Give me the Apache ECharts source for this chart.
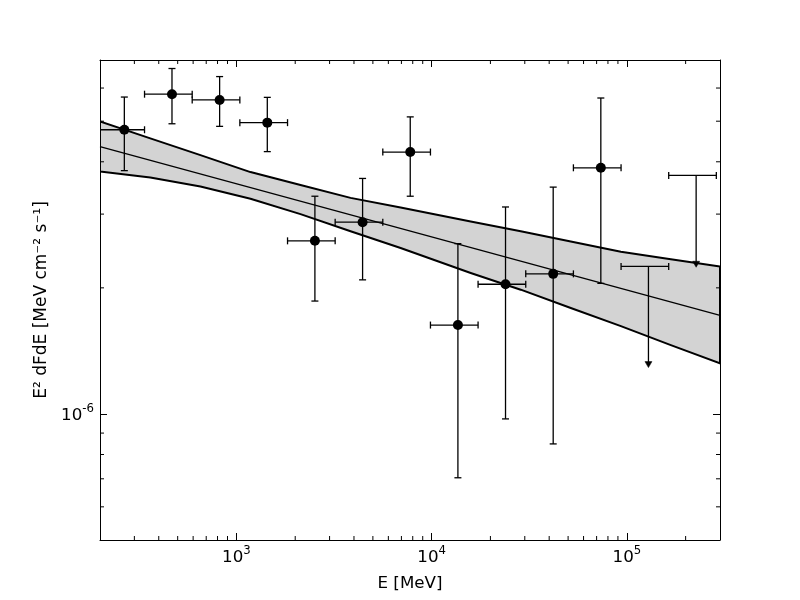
<!DOCTYPE html>
<html>
<head>
<meta charset="utf-8">
<script src="https://cdn.jsdelivr.net/npm/echarts@6/dist/echarts.min.js"></script>
<style>html,body{margin:0;padding:0;background:#fff}#chart{width:800px;height:600px}</style>
</head>
<body>
<div id="chart"></div>
<script>
// ---- data ----
// SED detections: energy (MeV), bin edges, E^2 dF/dE and its error range
const sedEnergy   = [266.5, 467.5, 820, 1439, 2523, 4428, 7768, 13630, 23900, 41940, 73560];
const sedEnergyLo = [192.8, 338.2, 593.4, 1041, 1827, 3204, 5620, 9859, 17290, 30340, 53230];
const sedEnergyHi = [338.2, 593.4, 1041, 1827, 3204, 5620, 9859, 17290, 30340, 53230, 93390];
const sedFlux     = [4.77e-6, 5.80e-6, 5.62e-6, 4.96e-6, 2.59e-6, 2.87e-6, 4.22e-6, 1.63e-6, 2.04e-6, 2.16e-6, 3.87e-6];
const sedFluxLo   = [3.81e-6, 4.93e-6, 4.86e-6, 4.23e-6, 1.86e-6, 2.09e-6, 3.31e-6, 0.704e-6, 0.973e-6, 0.848e-6, 2.05e-6];
const sedFluxHi   = [5.71e-6, 6.68e-6, 6.39e-6, 5.70e-6, 3.31e-6, 3.65e-6, 5.12e-6, 2.55e-6, 3.12e-6, 3.48e-6, 5.68e-6];

// Upper limits
const ulEnergy   = [129000, 226400];
const ulEnergyLo = [93390, 163800];
const ulEnergyHi = [163800, 287300];
const ulFlux     = [2.25e-6, 3.71e-6];
const ulArrowTo  = [1.29e-6, 2.24e-6];

// Fit butterfly (confidence band) and best-fit power law
const bandEnergy = [200, 362, 654, 1180, 2129, 3842, 6934, 15850, 28600, 51600, 93200, 168000, 300000];
const bandUpper  = [4.99e-6, 4.55e-6, 4.15e-6, 3.78e-6, 3.52e-6, 3.28e-6, 3.11e-6, 2.88e-6, 2.73e-6, 2.58e-6, 2.44e-6, 2.34e-6, 2.25e-6];
const bandLower  = [3.79e-6, 3.67e-6, 3.49e-6, 3.265e-6, 3.00e-6, 2.73e-6, 2.49e-6, 2.17e-6, 1.98e-6, 1.79e-6, 1.62e-6, 1.46e-6, 1.32e-6];
const fitEnergy  = [200, 300000];
const fitFlux    = [4.35e-6, 1.72e-6];

// Axis ranges and minor tick values
const xRange = [200, 300000];
const yRange = [5e-7, 7e-6];
const xMinorTicks = [300, 400, 500, 600, 700, 800, 900,
  2000, 3000, 4000, 5000, 6000, 7000, 8000, 9000,
  20000, 30000, 40000, 50000, 60000, 70000, 80000, 90000, 200000];
const yMinorTicks = [6e-7, 7e-7, 8e-7, 9e-7, 2e-6, 3e-6, 4e-6, 5e-6, 6e-6];

// ---- chart ----
const FONT = 'DejaVu Sans';
const FS = 16.7;
const chart = echarts.init(document.getElementById('chart'), null, {renderer: 'canvas'});

function powLabel(v) {
  const e = Math.log10(v);
  const r = Math.round(e);
  if (Math.abs(e - r) > 1e-6) return '';
  return '{b|10}{s|' + r + '}';
}
const richLabel = {
  b: {fontSize: FS, fontFamily: FONT, color: '#000', verticalAlign: 'bottom', lineHeight: 21},
  s: {fontSize: 11.7, fontFamily: FONT, color: '#000', verticalAlign: 'top', lineHeight: 12}
};

const lineStyle = {stroke: '#000', lineWidth: 1.3};
const CAP = 3.5;

function seg(x1, y1, x2, y2, st) {
  return {type: 'line', shape: {x1, y1, x2, y2}, style: st || lineStyle};
}

function errRender(params, api) {
  const c = api.coord([api.value(0), api.value(1)]);
  const l = api.coord([api.value(2), api.value(1)]);
  const r = api.coord([api.value(3), api.value(1)]);
  const b = api.coord([api.value(0), api.value(4)]);
  const t = api.coord([api.value(0), api.value(5)]);
  return {type: 'group', children: [
    seg(l[0], c[1], r[0], c[1]),
    seg(l[0], c[1] - CAP, l[0], c[1] + CAP),
    seg(r[0], c[1] - CAP, r[0], c[1] + CAP),
    seg(c[0], t[1], c[0], b[1]),
    seg(c[0] - CAP, t[1], c[0] + CAP, t[1]),
    seg(c[0] - CAP, b[1], c[0] + CAP, b[1])
  ]};
}

function ulRender(params, api) {
  const c = api.coord([api.value(0), api.value(1)]);
  const l = api.coord([api.value(2), api.value(1)]);
  const r = api.coord([api.value(3), api.value(1)]);
  const tip = api.coord([api.value(0), api.value(4)]);
  return {type: 'group', children: [
    seg(l[0], c[1], r[0], c[1]),
    seg(l[0], c[1] - CAP, l[0], c[1] + CAP),
    seg(r[0], c[1] - CAP, r[0], c[1] + CAP),
    seg(c[0], c[1], c[0], tip[1] - 2),
    {type: 'polygon', shape: {points: [[c[0] - 3.5, tip[1] - 6], [c[0] + 3.5, tip[1] - 6], [c[0], tip[1]]]},
     style: {fill: '#000', stroke: '#000', lineWidth: 0.5}}
  ]};
}

function bandRender(params, api) {
  if (params.dataIndex !== 0) return null;
  const pts = [];
  for (let i = 0; i < bandEnergy.length; i++) pts.push(api.coord([bandEnergy[i], bandUpper[i]]));
  for (let i = bandEnergy.length - 1; i >= 0; i--) pts.push(api.coord([bandEnergy[i], bandLower[i]]));
  return {type: 'polygon', shape: {points: pts},
          style: {fill: '#d3d3d3', stroke: '#000', lineWidth: 2, lineJoin: 'round'}};
}

function xTickRender(params, api) {
  const cs = params.coordSys;
  const x = api.coord([api.value(0), yRange[0]])[0];
  const bottom = cs.y + cs.height, top = cs.y;
  const st = {stroke: '#000', lineWidth: 1};
  return {type: 'group', children: [seg(x, bottom, x, bottom - 4, st), seg(x, top, x, top + 4, st)]};
}
function yTickRender(params, api) {
  const cs = params.coordSys;
  const y = api.coord([xRange[0], api.value(1)])[1];
  const left = cs.x, right = cs.x + cs.width;
  const st = {stroke: '#000', lineWidth: 1};
  return {type: 'group', children: [seg(left, y, left + 4, y, st), seg(right, y, right - 4, y, st)]};
}

const axisCommon = {
  type: 'log', logBase: 10,
  axisLine: {show: true, lineStyle: {color: '#000', width: 1}},
  axisTick: {show: true, inside: true, length: 7, lineStyle: {color: '#000', width: 1}},
  splitLine: {show: false},
  minorTick: {show: false}
};

const option = {
  backgroundColor: '#fff',
  animation: false,
  grid: {left: 100, right: 80, top: 60, bottom: 60, containLabel: false},
  xAxis: [
    Object.assign({}, axisCommon, {
      position: 'bottom', min: xRange[0], max: xRange[1],
      name: 'E [MeV]', nameLocation: 'middle', nameGap: 35,
      nameTextStyle: {fontSize: FS, fontFamily: FONT, color: '#000'},
      axisLabel: {show: true, margin: 5, formatter: powLabel, rich: richLabel}
    }),
    Object.assign({}, axisCommon, {
      position: 'top', min: xRange[0], max: xRange[1],
      axisLabel: {show: false}
    })
  ],
  yAxis: [
    Object.assign({}, axisCommon, {
      position: 'left', min: yRange[0], max: yRange[1],
      name: 'E² dFdE [MeV cm⁻² s⁻¹]', nameLocation: 'middle', nameGap: 48, nameRotate: 90,
      nameTextStyle: {fontSize: 17, fontFamily: FONT, color: '#000'},
      axisLabel: {show: true, margin: 6, formatter: powLabel, rich: richLabel}
    }),
    Object.assign({}, axisCommon, {
      position: 'right', min: yRange[0], max: yRange[1],
      axisLabel: {show: false}
    })
  ],
  series: [
    {
      type: 'custom', name: 'band', xAxisIndex: 0, yAxisIndex: 0, z: 1, clip: true,
      renderItem: bandRender,
      data: bandEnergy.map((e, i) => [e, bandUpper[i]])
    },
    {
      type: 'line', name: 'fit', xAxisIndex: 0, yAxisIndex: 0, z: 2,
      showSymbol: false, symbol: 'none',
      lineStyle: {color: '#000', width: 1.3},
      data: fitEnergy.map((e, i) => [e, fitFlux[i]])
    },
    {
      type: 'custom', name: 'errors', xAxisIndex: 0, yAxisIndex: 0, z: 3, clip: true,
      renderItem: errRender,
      encode: {x: 0, y: 1},
      data: sedEnergy.map((e, i) => [e, sedFlux[i], sedEnergyLo[i], sedEnergyHi[i], sedFluxLo[i], sedFluxHi[i]])
    },
    {
      type: 'custom', name: 'upper limits', xAxisIndex: 0, yAxisIndex: 0, z: 3, clip: true,
      renderItem: ulRender,
      encode: {x: 0, y: 1},
      data: ulEnergy.map((e, i) => [e, ulFlux[i], ulEnergyLo[i], ulEnergyHi[i], ulArrowTo[i]])
    },
    {
      type: 'scatter', name: 'points', xAxisIndex: 0, yAxisIndex: 0, z: 4,
      symbol: 'circle', symbolSize: 10,
      itemStyle: {color: '#000', opacity: 1},
      data: sedEnergy.map((e, i) => [e, sedFlux[i]])
    },
    {
      type: 'custom', name: 'xminor', xAxisIndex: 0, yAxisIndex: 0, z: 5,
      renderItem: xTickRender,
      data: xMinorTicks.map(v => [v, yRange[0]])
    },
    {
      type: 'custom', name: 'yminor', xAxisIndex: 0, yAxisIndex: 0, z: 5,
      renderItem: yTickRender,
      data: yMinorTicks.map(v => [xRange[0], v])
    }
  ]
};
chart.setOption(option);
</script>
</body>
</html>
